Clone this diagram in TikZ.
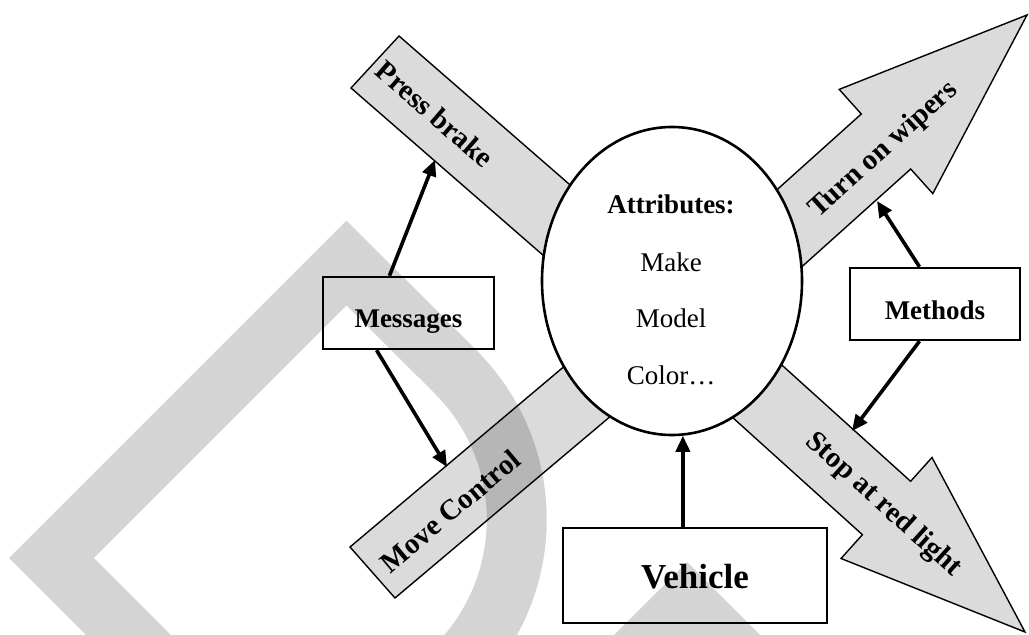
\documentclass[tikz,border=0pt]{standalone}
\usepackage{fontspec}
\setmainfont{Liberation Serif}
\usetikzlibrary{shapes.geometric,arrows.meta,calc}
\definecolor{wmgray}{gray}{0.83}
\begin{document}
\begin{tikzpicture}[x=1pt,y=1pt,
  bandshape/.style={draw=black, line width=1.4pt, fill=black, fill opacity=0.14, line join=miter},
  bandlabel/.style={font=\fontsize{29}{29}\selectfont\bfseries, inner sep=0pt},
  boxnode/.style={draw=black, line width=2.4pt, inner sep=0pt, text depth=0pt},
  conn/.style={line width=3.6pt, -{Triangle[length=16pt,width=14pt]}},
  attrtext/.style={font=\fontsize{27}{27}\selectfont, inner sep=0pt, anchor=base},
  attrhead/.style={font=\fontsize{27}{27}\selectfont\bfseries, inner sep=0pt, anchor=base},
]
\path[use as bounding box] (0,0) rectangle (1029,635);

% light grey background lettering
\begin{scope}
  \clip (0,0) rectangle (1029,635);
  \draw[wmgray, line width=60pt, line join=miter]
    (51.5,77) -- (346.5,372) -- (455.6,263.1)
    arc[start angle=45, end angle=-135, radius=208.7pt] -- cycle;
  \fill[wmgray] (687,73) -- (787,-27) -- (587,-27) -- cycle;
\end{scope}

% bands and arrows radiating from the object
\draw[bandshape] (399,599) -- (610,415.3) -- (562,363.3) -- (351,547) -- cycle;
\draw[bandshape] (734.8,407.4) -- (861.3,521) -- (839.2,545.6) -- (1027,620)
  -- (932.8,441.4) -- (910.7,466) -- (784.2,352.4) -- cycle;
\draw[bandshape] (350,88) -- (579.5,281.5) -- (624.5,230.5) -- (395,37) -- cycle;
\draw[bandshape] (762.2,287.7) -- (910.6,153.7) -- (932,177.5) -- (1025,3)
  -- (841,76.5) -- (862.4,100.3) -- (714,234.3) -- cycle;

\node[bandlabel, rotate=-41] (pb) at (435,521) {Press brake};
\node[bandlabel, rotate=42]  (tw) at (884,485) {Turn on wipers};
\node[bandlabel, rotate=40]  (mc) at (450,124) {Move Control};
\node[bandlabel, rotate=-42] (sr) at (883,130) {Stop at red light};

% the object with its attributes
\node[draw, ellipse, line width=2.6pt, fill=white, minimum width=260pt,
      minimum height=308pt, inner sep=0pt] (attr) at (672,354) {};
\node[attrhead] (ahead) at (671,421) {Attributes:};
\node[attrtext] (amake) at (671,363) {Make};
\node[attrtext] (amodel) at (671,307) {Model};
\node[attrtext] (acolor) at (671,250) {Color…};

% boxes
\node[boxnode, minimum width=171pt, minimum height=72pt, text height=30pt,
      font=\fontsize{27}{27}\selectfont\bfseries] (msg) at (408.5,322) {Messages};
\node[boxnode, minimum width=170pt, minimum height=72pt, text height=32pt,
      font=\fontsize{27}{27}\selectfont\bfseries] (meth) at (935,331) {Methods};
\node[boxnode, minimum width=264pt, minimum height=95pt, text height=27pt,
      font=\fontsize{35}{35}\selectfont\bfseries] (veh) at (695,59.5) {Vehicle};

% connectors
\coordinate (pbhit) at (435,475);
\coordinate (mchit) at (447,168);
\coordinate (twhit) at (877,434);
\coordinate (srhit) at (852,204);
\draw[conn] ($(msg.north west)!0.39!(msg.north east)$) -- (pbhit);
\draw[conn] ($(msg.south west)!0.316!(msg.south east)$) -- (mchit);
\draw[conn] ($(meth.north west)!0.41!(meth.north east)$) -- (twhit);
\draw[conn] ($(meth.south west)!0.41!(meth.south east)$) -- (srhit);
\coordinate (vtop) at ($(veh.north west)!0.4545!(veh.north east)$);
\draw[conn] (vtop) -- (vtop |- attr.-86);
\end{tikzpicture}
\end{document}
